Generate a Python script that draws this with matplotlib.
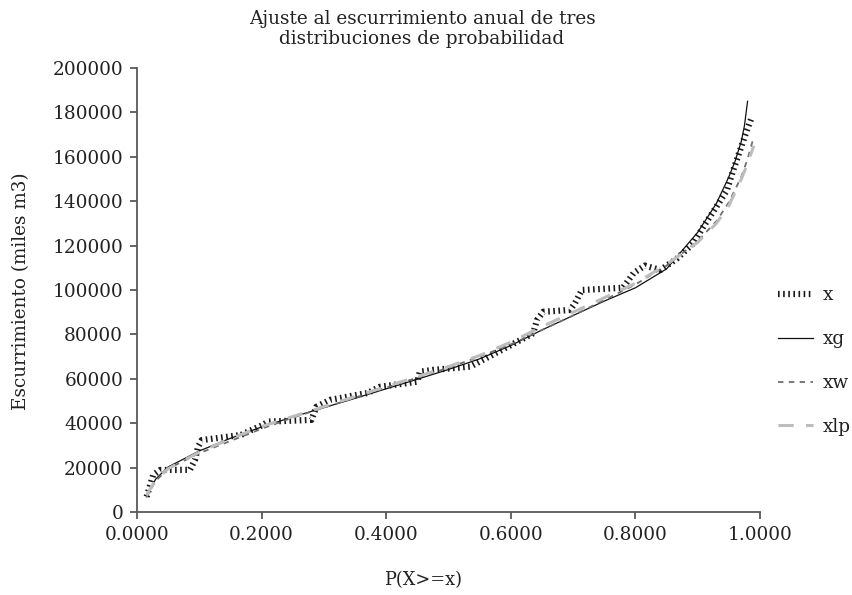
import numpy as np
import matplotlib
matplotlib.use("Agg")
from matplotlib import pyplot as plt

# observed runoff (sorted) vs exceedance probability
p_obs = [0.0156, 0.026, 0.037, 0.085, 0.093, 0.098, 0.104, 0.167, 0.178, 0.202,
         0.21, 0.28, 0.288, 0.31, 0.37, 0.39, 0.45, 0.454, 0.475, 0.535,
         0.594, 0.636, 0.642, 0.652, 0.695, 0.703, 0.714, 0.78, 0.797, 0.815,
         0.84, 0.866, 0.893, 0.909, 0.93, 0.947, 0.957, 0.968, 0.979, 0.987]
x_obs = [6900, 16700, 18900, 19000, 23400, 29400, 32400, 34700, 36200, 39200,
         40700, 41500, 47400, 50500, 53600, 56400, 58700, 63200, 64000, 65500,
         74300, 80500, 86500, 90200, 91000, 94100, 100000, 101000, 107600, 111000,
         109000, 114000, 121000, 128500, 137500, 145000, 154000, 163000, 172000, 178000]

# gumbel fit
p_g = [0.018, 0.03, 0.05, 0.1, 0.15, 0.2, 0.25, 0.3, 0.35, 0.4, 0.45, 0.5, 0.55,
       0.6, 0.65, 0.7, 0.75, 0.8, 0.85, 0.9, 0.93, 0.95, 0.96, 0.97, 0.975, 0.98]
xg = [8500, 14800, 20300, 27500, 33200, 38300, 42800, 47000, 51200, 55500, 59800,
      64200, 69000, 75000, 82000, 88500, 95000, 101000, 109500, 126000, 139000,
      151000, 158000, 167000, 174000, 185000]

# weibull and log-pearson fits
p_f = [0.015, 0.03, 0.05, 0.1, 0.15, 0.2, 0.25, 0.3, 0.35, 0.4, 0.45, 0.5, 0.55,
       0.6, 0.65, 0.7, 0.75, 0.8, 0.85, 0.9, 0.93, 0.95, 0.97, 0.98, 0.99]
xw = [6500, 14000, 19500, 26500, 32000, 37500, 42500, 47000, 51500, 56000, 60500,
      65000, 70000, 75500, 82000, 88500, 95500, 102500, 111000, 122000, 131000,
      139500, 151000, 159000, 169000]
xlp = [7500, 14500, 19500, 27000, 33000, 38500, 43000, 47500, 52000, 56500, 61000,
       65500, 70500, 76500, 83500, 90000, 96500, 103000, 111500, 121500, 130000,
       138000, 150000, 157000, 165000]

x_ticks = [0.0, 0.2, 0.4, 0.6, 0.8, 1.0]
y_ticks = list(range(0, 200001, 20000))

plt.rcParams['font.family'] = ['DejaVu Serif']
txt = '#222222'
fig = plt.figure(figsize=(8.53, 5.95), dpi=100)
ax = fig.add_axes([0.1606, 0.1395, 0.891 - 0.1606, 0.8857 - 0.1395])

ax.plot(p_obs, x_obs, color='#1a1a1a', lw=4.5, dashes=(0.26, 0.56),
        solid_capstyle='butt', dash_capstyle='butt', label='x')
ax.plot(p_g, xg, color='#111111', lw=0.9, label='xg')
ax.plot(p_f, xw, color='#6e6e6e', lw=1.3, dashes=(3, 3), label='xw')
ax.plot(p_f, xlp, color='#bdbdbd', lw=2.2, dashes=(5, 4), label='xlp')

ax.set_xlim(0, 1.0)
ax.set_ylim(0, 200000)
ax.set_xticks(x_ticks)
ax.set_yticks(y_ticks)
ax.set_xticklabels(['%.4f' % t for t in x_ticks])
ax.set_yticklabels([str(t) for t in y_ticks])
for s in ['top', 'right']:
    ax.spines[s].set_visible(False)
for s in ['left', 'bottom']:
    ax.spines[s].set_color('#595959')
    ax.spines[s].set_linewidth(1.3)
ax.tick_params(direction='out', length=5, width=1.3, color='#595959',
               labelsize=13.3, labelcolor=txt, pad=5)

fig.text(423.5 / 853, 1 - 580 / 595, 'P(X>=x)', fontsize=12.8, color=txt,
         ha='center', va='center')
fig.text(21 / 853, 1 - 291 / 595, 'Escurrimiento (miles m3)', fontsize=13.2,
         color=txt, rotation=90, ha='center', va='center')
fig.text(422 / 853, 1 - 29 / 595, 'Ajuste al escurrimiento anual de tres\ndistribuciones de probabilidad',
         ha='center', va='center', fontsize=13.3, linespacing=1.2, color=txt)

fig.legend(loc='center left', bbox_to_anchor=(0.901, 0.393), frameon=False,
           fontsize=13.3, labelspacing=1.4, handlelength=1.9, handletextpad=0.55,
           borderpad=0, labelcolor=txt)

fig.savefig('out.png', dpi=100)
